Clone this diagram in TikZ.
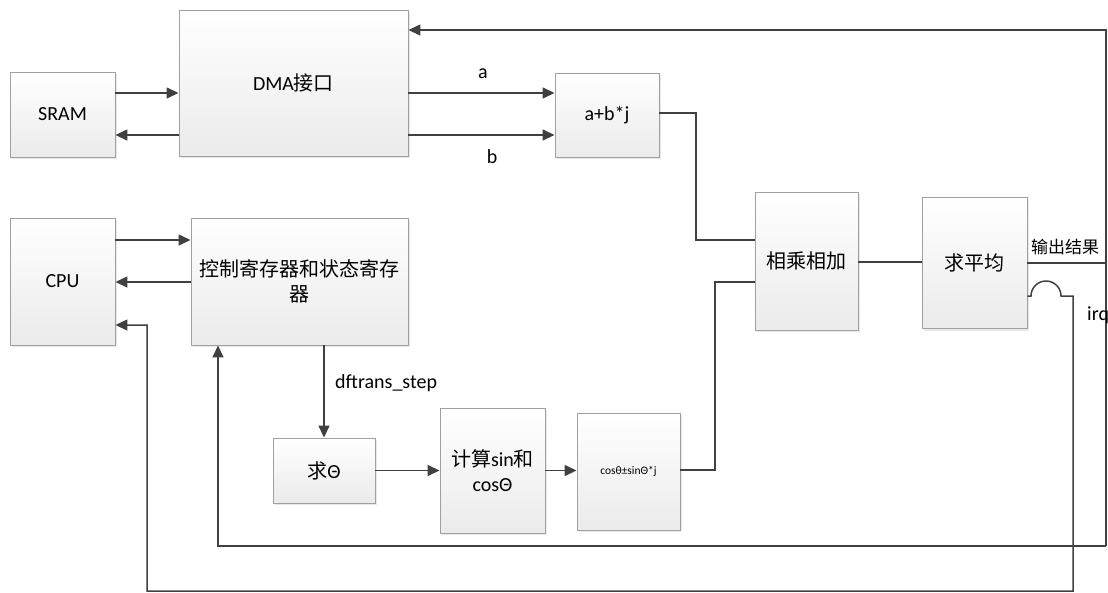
\documentclass[tikz,border=0pt]{standalone}
\usepackage{fontspec}
\setmainfont{Carlito}
\newfontfamily\cjk{Noto Sans CJK SC}
\usetikzlibrary{arrows.meta,shadows}
\definecolor{ln}{HTML}{404040}
\definecolor{bd}{HTML}{A0A0A0}
\tikzset{
  blk/.style={draw=bd, line width=0.9pt, top color=white, bottom color=black!8,
    drop shadow={opacity=0.18, shadow xshift=2pt, shadow yshift=-2pt},
    inner sep=2pt, align=center, font=\fontsize{20}{25}\selectfont},
  wire/.style={draw=ln, line width=1.5pt},
  arr/.style={wire, -{Triangle[length=12pt,width=11pt]}},
  lbl/.style={font=\fontsize{20}{24}\selectfont, inner sep=0pt}
}
\begin{document}
\begin{tikzpicture}[x=1pt,y=-1pt]
\useasboundingbox (0,0) rectangle (1108,592);
% blocks
\node[blk, minimum width=105pt, minimum height=85pt]  (sram) at (62.5,114.5) {SRAM};
\node[blk, minimum width=229pt, minimum height=146pt] (dma)  at (293.5,83) {DMA{\cjk 接口}};
\node[blk, minimum width=104pt, minimum height=84pt]  (ab)   at (607,115) {a+b*j};
\node[blk, minimum width=105pt, minimum height=127pt] (cpu)  at (62.5,281.5) {CPU};
\node[blk, minimum width=217pt, minimum height=127pt] (ctrl) at (299.5,281.5) {\cjk 控制寄存器和状态寄存\\\cjk 器};
\node[blk, minimum width=102pt, minimum height=65pt]  (th)   at (324,470.5) {{\cjk 求}Θ};
\node[blk, minimum width=105pt, minimum height=125pt] (calc) at (492.5,470.5) {{\cjk 计算}sin{\cjk 和}\\cosΘ};
\node[blk, minimum width=103pt, minimum height=117pt, font=\fontsize{11.5}{14}\selectfont] (cs) at (628.5,471.5) {cosθ±sinΘ*j};
\node[blk, minimum width=103pt, minimum height=138pt] (mul)  at (806.5,261) {\cjk 相乘相加};
\node[blk, minimum width=105pt, minimum height=131pt] (avg)  at (974.5,263) {\cjk 求平均};
% corner coordinates
\coordinate (tr) at (1106,30);
\coordinate (br) at (1106,546);
\coordinate (bl) at (218,546);
\coordinate (ja) at (1031,296);
\coordinate (jb) at (1073,296);
\coordinate (irqb) at (1073,591);
\coordinate (cpub) at (147,591);
\coordinate (cpuc) at (147,325);
\coordinate (k1) at (696,113);
\coordinate (k2) at (715,470);
% connectors
\draw[arr] (sram.east |- 0,93) -- (dma.west |- 0,93);
\draw[arr] (dma.west |- 0,135) -- (sram.east |- 0,135);
\draw[arr] (dma.east |- 0,93) -- (ab.west |- 0,93);
\draw[arr] (dma.east |- 0,135) -- (ab.west |- 0,135);
\node[lbl] (la) at (483,74) {a};
\node[lbl] (lb) at (492,157) {b};
\draw[wire] (ab.east |- k1) -- (k1) |- (mul.west |- 0,240);
\draw[wire] (cs.east |- k2) -- (k2) |- (mul.west |- 0,282);
\draw[wire] (mul.east |- 0,262) -- (avg.west |- 0,262);
\draw[wire] (avg.east |- 0,263) -- (tr |- 0,263);
\node[lbl, font=\cjk\fontsize{17}{20}\selectfont] (lout) at (1065,247) {输出结果};
\draw[arr] (br) -- (tr) -- (dma.east |- tr);
\draw[arr] (br) -- (bl) -- (bl |- ctrl.south);
\draw[arr] (avg.east |- ja) -- (ja) arc[start angle=180, end angle=0, radius=15pt] -- (jb) -- (irqb) -- (cpub) -- (cpuc) -- (cpu.east |- cpuc);
\node[lbl, anchor=west] (lirq) at (1087,315) {irq};
\draw[arr] (cpu.east |- 0,240) -- (ctrl.west |- 0,240);
\draw[arr] (ctrl.west |- 0,282) -- (cpu.east |- 0,282);
\draw[arr] (th.north |- ctrl.south) -- (th.north);
\node[lbl, anchor=west] (ldft) at (335,383) {dftrans\_step};
\draw[arr] (th.east) -- (calc.west |- th.east);
\draw[arr] (calc.east) -- (cs.west |- calc.east);
\end{tikzpicture}
\end{document}
